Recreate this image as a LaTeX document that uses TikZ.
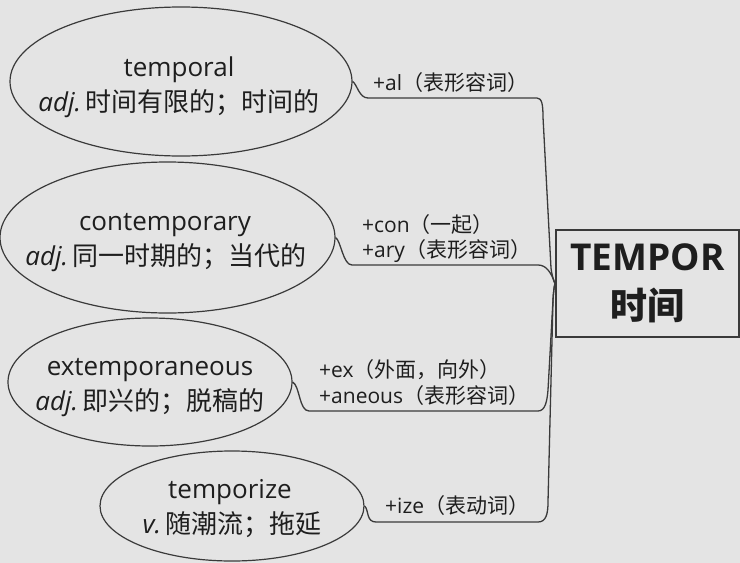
\documentclass[tikz,border=0pt]{standalone}
\usepackage{fontspec}
\usetikzlibrary{shapes.geometric}
\setmainfont{Open Sans}
\newfontfamily\cjk{Noto Sans CJK SC}
\newcommand\zh[1]{{\cjk #1}}
\definecolor{bgc}{HTML}{E4E4E4}
\definecolor{txt}{HTML}{1E1E1E}
\definecolor{linec}{HTML}{3A3A3A}
\tikzset{
  bubble/.style={draw=linec, line width=1.2pt, ellipse, inner sep=0pt},
  word/.style={text=txt, font=\fontsize{26}{30}\selectfont, anchor=base, inner sep=0pt},
  affix/.style={text=txt, font=\fontsize{21}{25}\selectfont, anchor=base west, inner sep=0pt},
  link/.style={draw=linec, line width=1.3pt},
  root/.style={draw=linec, line width=2pt, minimum width=183pt, minimum height=107pt, inner sep=0pt,
    text=txt, align=center, font=\fontsize{37}{49}\selectfont\bfseries}
}
\begin{document}
\begin{tikzpicture}[x=1pt,y=-1pt]
\fill[bgc] (0,0) rectangle (740,563);
\useasboundingbox (0,0) rectangle (740,563);

% ellipses
\node[bubble, minimum width=342pt, minimum height=149pt] (e1) at (181,81.5) {};
\node[bubble, minimum width=335pt, minimum height=151pt] (e2) at (167.5,237.5) {};
\node[bubble, minimum width=284pt, minimum height=128pt] (e3) at (150,382) {};
\node[bubble, minimum width=264pt, minimum height=110pt] (e4) at (232,506) {};

% ellipse texts
\node[word] (w1a) at (179,76) {temporal};
\node[word] (w1b) at (179,111) {\textit{adj.}\,\zh{时间有限的；时间的}};
\node[word] (w2a) at (165,230) {contemporary};
\node[word] (w2b) at (166,265) {\textit{adj.}\,\zh{同一时期的；当代的}};
\node[word] (w3a) at (150,375) {extemporaneous};
\node[word] (w3b) at (150,410) {\textit{adj.}\,\zh{即兴的；脱稿的}};
\node[word] (w4a) at (230,498) {temporize};
\node[word] (w4b) at (232,533) {\textit{v.}\,\zh{随潮流；拖延}};

% root box
\node[root] (root) at (647.5,283.5) {TEMPOR\\\zh{时间}};

% affix labels
\node[affix] (l1) at (373,90) {+al\zh{（表形容词）}};
\node[affix] (l2a) at (362,232) {+con\zh{（一起）}};
\node[affix] (l2b) at (362,257) {+ary\zh{（表形容词）}};
\node[affix] (l3a) at (319,377) {+ex\zh{（外面，向外）}};
\node[affix] (l3b) at (319,403) {+aneous\zh{（表形容词）}};
\node[affix] (l4) at (385,513) {+ize\zh{（表动词）}};

% connectors
\draw[link] (e1.east) .. controls (357,84) and (359,98) .. (368,98) -- (537,98)
  .. controls (542,98) and (543,105) .. (543,117) -- (551,268)
  .. controls (552,276) and (554,282) .. (root.west);
\draw[link] (e2.east) .. controls (341,241) and (343,265) .. (352,265) -- (538,265)
  .. controls (546,265) and (551,272) .. (root.west);
\draw[link] (e3.east) .. controls (300,386) and (299,411) .. (309,411) -- (538,411)
  .. controls (545,411) and (547,402) .. (548,390) -- (553,300)
  .. controls (553.5,292) and (554,287) .. (root.west);
\draw[link] (e4.east) .. controls (369,510) and (366,522) .. (376,522) -- (538,522)
  .. controls (546,522) and (548,514) .. (548,502) -- (553,300)
  .. controls (553.5,292) and (554,287) .. (root.west);
\end{tikzpicture}
\end{document}
